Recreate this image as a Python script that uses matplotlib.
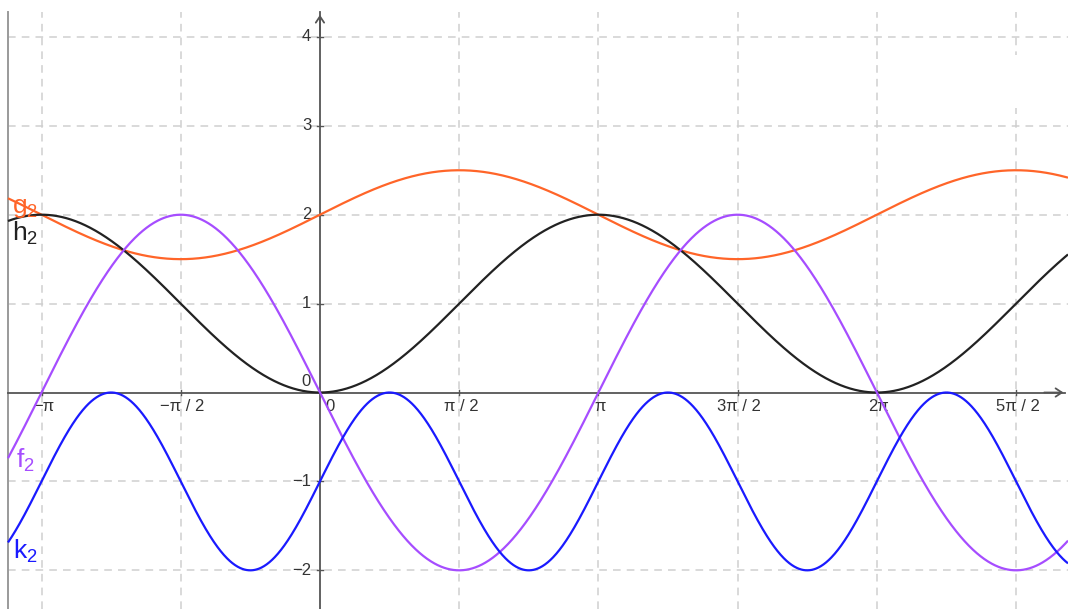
"""
Four trig curves on a pi-gridded plane: f2, g2, h2, k2
"""

import numpy as np
import matplotlib.pyplot as plt
from matplotlib.patches import Rectangle

plt.rcParams["font.family"] = ["Liberation Sans", "DejaVu Sans"]
plt.rcParams["mathtext.fontset"] = "custom"
plt.rcParams["mathtext.rm"] = "Liberation Sans"

# ── curve parameters: y = offset + amp * trig(freq * x) ──
CURVE_NAMES = ["g_2", "h_2", "f_2", "k_2"]
CURVE_KIND = ["sin", "cos", "sin", "sin"]
CURVE_OFFSET = [2.0, 1.0, 0.0, -1.0]
CURVE_AMP = [0.5, -1.0, -2.0, 1.0]
CURVE_FREQ = [1.0, 1.0, 1.0, 2.0]
CURVE_COLORS = ["#ff6529", "#222222", "#a64dff", "#1a1aff"]
# label anchor (x, y) next to the left edge
LABEL_POS = [(-3.33, 2.07), (-3.33, 1.79), (-3.32, -0.76), (-3.32, -1.79)]

# ── axes ticks ──
X_TICKS = [-np.pi, -np.pi / 2, np.pi / 2, np.pi, 3 * np.pi / 2, 2 * np.pi, 5 * np.pi / 2]
X_LABELS = ["−π", "−π / 2", "π / 2", "π", "3π / 2", "2π", "5π / 2"]
Y_TICKS = [-2, -1, 1, 2, 3, 4]
Y_LABELS = ["−2", "−1", "1", "2", "3", "4"]

XMIN, XMAX = -3.61, 8.44
YMIN, YMAX = -2.435, 4.415
X_START = -3.52      # left border of the drawing area
Y_ARROW = 4.28       # top of the y axis arrow

AXIS_COLOR = "#555555"
GRID_COLOR = "#cfcfcf"
TEXT_COLOR = "#333333"


def main():
    fig = plt.figure(figsize=(10.68, 6.09), dpi=100)
    ax = fig.add_axes([0, 0, 1, 1])
    ax.set_xlim(XMIN, XMAX)
    ax.set_ylim(YMIN, YMAX)
    ax.axis("off")

    # grid
    for xv in X_TICKS:
        ax.plot([xv, xv], [YMIN, Y_ARROW], color=GRID_COLOR, lw=1.1,
                dashes=(5, 4), zorder=1)
    for yv in Y_TICKS:
        ax.plot([X_START, XMAX], [yv, yv], color=GRID_COLOR, lw=1.1,
                dashes=(5, 4), zorder=1)

    # blank patch in the upper right corner
    ax.add_patch(Rectangle((7.1, 3.20), XMAX - 7.1, 0.60, facecolor="white",
                           edgecolor="none", zorder=1.5))

    # left border
    ax.plot([X_START, X_START], [YMIN, Y_ARROW], color="#9a9a9a", lw=1.4, zorder=2)

    # axes with arrows
    ax.plot([X_START, XMAX - 0.03], [0, 0], color=AXIS_COLOR, lw=1.3, zorder=3)
    ax.plot([0, 0], [YMIN, Y_ARROW], color=AXIS_COLOR, lw=1.3, zorder=3)
    ax.annotate("", xy=(XMAX - 0.02, 0), xytext=(XMAX - 0.3, 0),
                arrowprops=dict(arrowstyle="->,head_length=0.45,head_width=0.3",
                                color=AXIS_COLOR, lw=1.3), zorder=3)
    ax.annotate("", xy=(0, Y_ARROW), xytext=(0, Y_ARROW - 0.3),
                arrowprops=dict(arrowstyle="->,head_length=0.45,head_width=0.3",
                                color=AXIS_COLOR, lw=1.3), zorder=3)

    # small tick marks on the axes
    for xv in X_TICKS:
        ax.plot([xv, xv], [-0.03, 0.03], color=AXIS_COLOR, lw=1.0, zorder=3)
    for yv in Y_TICKS:
        ax.plot([-0.03, 0.03], [yv, yv], color=AXIS_COLOR, lw=1.0, zorder=3)

    # tick labels
    for xv, lab in zip(X_TICKS, X_LABELS):
        ax.text(xv + 0.02, -0.07, lab, ha="center", va="top", fontsize=12,
                color=TEXT_COLOR, zorder=4)
    for yv, lab in zip(Y_TICKS, Y_LABELS):
        ax.text(-0.1, yv, lab, ha="right", va="center", fontsize=12,
                color=TEXT_COLOR, zorder=4)
    ax.text(0.11, -0.07, "0", ha="center", va="top", fontsize=12, color=TEXT_COLOR, zorder=4)
    ax.text(-0.1, 0.04, "0", ha="right", va="bottom", fontsize=12, color=TEXT_COLOR, zorder=4)

    # curves
    x = np.linspace(X_START, XMAX, 2000)
    trig = {"sin": np.sin, "cos": np.cos}
    for name, kind, off, amp, freq, col, (lx, ly) in zip(
            CURVE_NAMES, CURVE_KIND, CURVE_OFFSET, CURVE_AMP, CURVE_FREQ,
            CURVE_COLORS, LABEL_POS):
        y = off + amp * trig[kind](freq * x)
        ax.plot(x, y, color=col, lw=1.6, zorder=5, solid_capstyle="butt")
        base, sub = name.split("_")
        ax.text(lx, ly, rf"$\mathrm{{{base}}}_{{\mathrm{{{sub}}}}}$", color=col,
                fontsize=19, ha="center", va="center", zorder=6)

    fig.savefig("out.png", dpi=100)
    plt.close(fig)


if __name__ == "__main__":
    main()
